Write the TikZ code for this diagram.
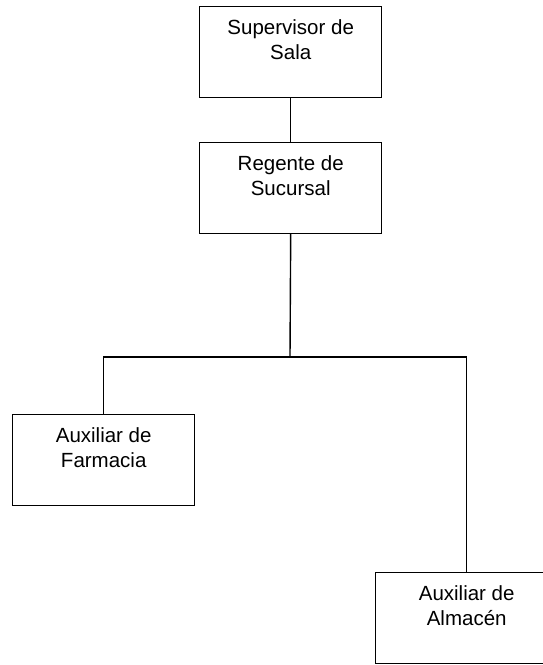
\documentclass[tikz,border=0pt]{standalone}
\usepackage{fontspec}
\setmainfont{Liberation Sans}
\begin{document}
\begin{tikzpicture}[x=1pt,y=-1pt,
  box/.style={draw,line width=1.4pt,minimum width=182pt,minimum height=90.5pt,inner sep=0pt,anchor=north west},
  lbl/.style={anchor=north,inner sep=0pt,align=center,font=\fontsize{20.5}{25}\selectfont},
  conn/.style={line width=1.4pt}]
\useasboundingbox (0,0) rectangle (542,665);
\node[box] (sup) at (199,6) {};
\node[box] (reg) at (199,142) {};
\node[box] (far) at (12,414) {};
\node[box] (alm) at (375,572) {};
\node[lbl] (supt) at ([yshift=-13.5pt]sup.north) {Supervisor de\\Sala};
\node[lbl] (regt) at ([yshift=-13.5pt]reg.north) {Regente de\\Sucursal};
\node[lbl] (fart) at ([yshift=-13.5pt]far.north) {Auxiliar de\\Farmacia};
\node[lbl] (almt) at ([yshift=-13.5pt]alm.north) {Auxiliar de\\Almacén};
\coordinate (j) at (290,357);
\draw[conn] (sup.south) -- (reg.north);
\draw[conn] (reg.south) -- (j);
\draw[conn] (far.north) |- (j) -| (alm.north);
\end{tikzpicture}
\end{document}
